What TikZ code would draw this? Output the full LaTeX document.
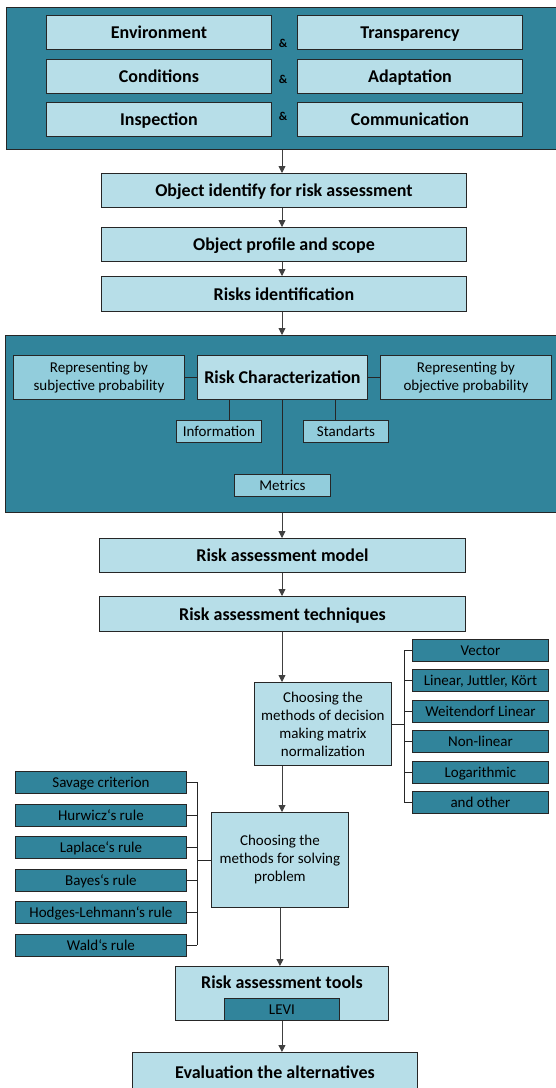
\documentclass[tikz,border=0pt]{standalone}
\usepackage{fontspec}
\setmainfont{Carlito}
\usetikzlibrary{arrows.meta,positioning,calc}
\definecolor{tealdark}{RGB}{49,132,155}
\definecolor{teallight}{RGB}{183,222,232}
\definecolor{tealmid}{RGB}{146,205,220}
\definecolor{edgegray}{RGB}{38,38,38}
\definecolor{linegray}{RGB}{64,64,64}
\tikzset{
  bgbox/.style={draw=edgegray,fill=tealdark,line width=0.9pt,anchor=north west,inner sep=0pt},
  mainbox/.style={draw=edgegray,fill=teallight,line width=0.9pt,anchor=north west,
                  align=center,inner sep=0pt,text height=13pt,text depth=0pt,
                  font=\fontsize{18}{21}\selectfont\bfseries},
  topbox/.style={mainbox,minimum width=225,minimum height=34},
  midbox/.style={draw=edgegray,fill=tealmid,line width=0.9pt,anchor=north west,
                 align=center,inner sep=0pt,font=\fontsize{15}{18}\selectfont},
  onebox/.style={midbox,text height=10pt,text depth=0pt},
  listbox/.style={draw=edgegray,fill=tealdark,line width=0.9pt,anchor=north west,
                  align=center,inner sep=0pt,minimum height=22,text height=10pt,text depth=0pt,
                  font=\fontsize{15}{18}\selectfont},
  choicebox/.style={draw=edgegray,fill=teallight,line width=0.9pt,anchor=north west,
                    align=center,inner sep=0pt,minimum width=137,font=\fontsize{15}{18}\selectfont},
  amp/.style={font=\fontsize{12}{14}\selectfont\bfseries,inner sep=0pt},
  link/.style={draw=edgegray,line width=0.9pt},
  arr/.style={-{Triangle[length=7pt,width=7pt]},draw=linegray,line width=0.9pt},
}
\begin{document}
\begin{tikzpicture}[x=1pt,y=-1pt]
\useasboundingbox (0,0) rectangle (555,1088);
\coordinate (spine) at (282,0);
\coordinate (rbr) at (404,0);
\coordinate (lbr) at (197,0);

% top block
\node[bgbox,minimum width=551,minimum height=142] (topbg) at (6,7) {};
\node[topbox] (env) at (46,15) {Environment};
\node[topbox] (trans) at (297,15) {Transparency};
\node[topbox] (cond) at (46,59) {Conditions};
\node[topbox] (adapt) at (297,59) {Adaptation};
\node[topbox] (insp) at (46,102) {Inspection};
\node[topbox] (comm) at (297,102) {Communication};
\node[amp] (amp1) at (283,43) {\&};
\node[amp] (amp2) at (283,79) {\&};
\node[amp] (amp3) at (283,116) {\&};

% object steps
\node[mainbox,minimum width=365,minimum height=34] (objid) at (101,173) {Object identify for risk assessment};
\node[mainbox,minimum width=365,minimum height=34] (objprof) at (101,227) {Object profile and scope};
\node[mainbox,minimum width=365,minimum height=35] (riskid) at (101,276) {Risks identification};

% characterization block
\node[bgbox,minimum width=552,minimum height=177] (charbg) at (5,335) {};
\node[midbox,minimum width=171,minimum height=44] (subj) at (13,355) {Representing by\\subjective probability};
\node[mainbox,minimum width=170,minimum height=44] (rchar) at (197,355) {Risk Characterization};
\node[midbox,minimum width=171,minimum height=44] (obj) at (380,355) {Representing by\\objective probability};
\node[onebox,minimum width=85,minimum height=22] (info) at (176,420) {Information};
\node[onebox,minimum width=85,minimum height=22] (stand) at (303,420) {Standarts};
\node[onebox,minimum width=96,minimum height=22] (metr) at (234,474) {Metrics};
\draw[link] (subj.east) -- (rchar.west);
\draw[link] (rchar.east) -- (obj.west);
\draw[link] ([xshift=10.5pt]info.north) -- ([xshift=10.5pt]info.north |- rchar.south);
\draw[link] ([xshift=-10.5pt]stand.north) -- ([xshift=-10.5pt]stand.north |- rchar.south);
\draw[link] (metr.north) -- (metr.north |- rchar.south);

% model and techniques
\node[mainbox,minimum width=366,minimum height=34] (ramod) at (99,538) {Risk assessment model};
\node[mainbox,minimum width=366,minimum height=35] (ratech) at (99,596) {Risk assessment techniques};

% normalization
\node[choicebox,minimum height=83] (normchoice) at (254,682) {Choosing the\\methods of decision\\making matrix\\normalization};
\foreach \txt [count=\i from 0] in {Vector,{Linear, Juttler, Kört},Weitendorf Linear,Non-linear,Logarithmic,and other}
  \node[listbox,minimum width=136] (nitem\i) at (412,639+30.4*\i) {\txt};
\draw[link] (normchoice.east) -- (normchoice.east -| rbr);
\draw[link] (rbr |- nitem0.west) -- (rbr |- nitem5.west);
\foreach \i in {0,...,5}
  \draw[link] (nitem\i.west) -- (nitem\i.west -| rbr);

% solving
\node[choicebox,minimum height=95] (solvechoice) at (211,812) {Choosing the\\methods for solving\\problem};
\foreach \txt [count=\i from 0] in {Savage criterion,Hurwicz‘s rule,Laplace‘s rule,Bayes‘s rule,Hodges-Lehmann‘s rule,Wald‘s rule}
  \node[listbox,minimum width=171] (sitem\i) at (15,771+32.6*\i) {\txt};
\draw[link] (solvechoice.west) -- (solvechoice.west -| lbr);
\draw[link] (lbr |- sitem0.east) -- (lbr |- sitem5.east);
\foreach \i in {0,...,5}
  \draw[link] (sitem\i.east) -- (sitem\i.east -| lbr);

% tools and evaluation
\node[mainbox,minimum width=213,text height=22pt,text depth=32pt] (tools) at (175,966) {Risk assessment tools};
\node[listbox,minimum width=115] (levi) at (224,998) {LEVI};
\node[mainbox,minimum width=285,minimum height=40] (evalalt) at (132,1052) {Evaluation the alternatives};

% flow arrows
\draw[arr] (topbg.south -| spine) -- (objid.north -| spine);
\draw[arr] (objid.south -| spine) -- (objprof.north -| spine);
\draw[arr] (objprof.south -| spine) -- (riskid.north -| spine);
\draw[arr] (riskid.south -| spine) -- (charbg.north -| spine);
\draw[arr] (charbg.south -| spine) -- (ramod.north -| spine);
\draw[arr] (ramod.south -| spine) -- (ratech.north -| spine);
\draw[arr] (ratech.south -| spine) -- (normchoice.north -| spine);
\draw[arr] (normchoice.south -| spine) -- (solvechoice.north -| spine);
\draw[arr] (solvechoice.south) -- (solvechoice.south |- tools.north);
\draw[arr] (levi.south) -- (levi.south |- evalalt.north);
\end{tikzpicture}
\end{document}
